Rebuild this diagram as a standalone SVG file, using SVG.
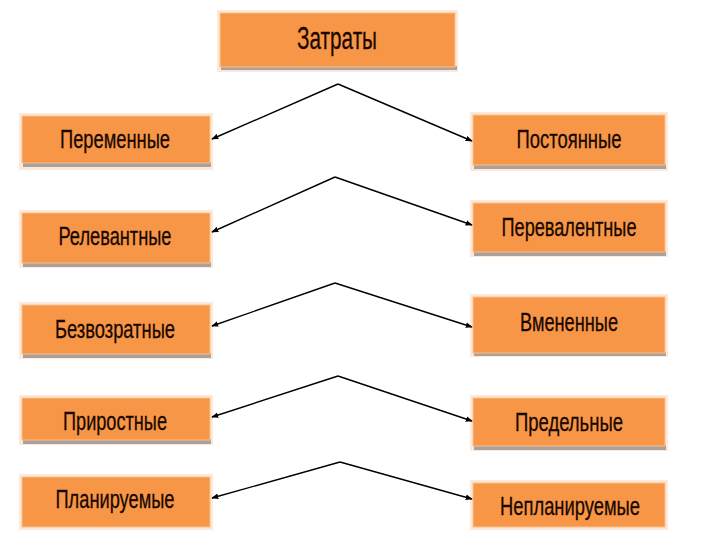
<svg xmlns="http://www.w3.org/2000/svg" width="720" height="540" viewBox="0 0 720 540">
<defs>
<marker id="arr" viewBox="0 0 10 10" refX="9" refY="5" markerWidth="7" markerHeight="7" markerUnits="userSpaceOnUse" orient="auto">
<path d="M0,1 L10,5 L0,9 z" fill="#000"/>
</marker>
</defs>
<style>
.glow{fill:#fde9d9}
.sh{fill:#a9a19a}
.box{fill:#f79646;stroke:#fac090;stroke-width:1}
.t{font-family:"Liberation Sans",Arial,sans-serif;font-size:25px;fill:#1a0800;stroke:#1a0800;stroke-width:0.3;text-anchor:middle}
.tt{font-size:31px}
.c{fill:none;stroke:#000;stroke-width:1.4;marker-end:url(#arr)}
</style>
<rect width="720" height="540" fill="#fff"/>

<g id="zatraty">
<rect class="glow" x="217" y="10" width="241" height="62"/>
<rect class="sh" x="221" y="66" width="236" height="4"/>
<rect class="box" x="220" y="13" width="235" height="54"/>
<text class="t tt" x="337" y="49" textLength="80" lengthAdjust="spacingAndGlyphs">Затраты</text>
</g>

<g id="peremennye">
<rect class="glow" x="19" y="113" width="194" height="57"/>
<rect class="sh" x="23" y="162" width="188" height="5"/>
<rect class="box" x="22" y="116" width="188" height="47"/>
<text class="t" x="115" y="148" textLength="110" lengthAdjust="spacingAndGlyphs">Переменные</text>
</g>

<g id="postoyannye">
<rect class="glow" x="470" y="112" width="198" height="59"/>
<rect class="sh" x="474" y="164" width="192" height="5"/>
<rect class="box" x="473" y="115" width="192" height="50"/>
<text class="t" x="569" y="148" textLength="105" lengthAdjust="spacingAndGlyphs">Постоянные</text>
</g>

<g id="relevantnye">
<rect class="glow" x="19" y="210" width="194" height="58"/>
<rect class="sh" x="23" y="262" width="188" height="5"/>
<rect class="box" x="22" y="213" width="188" height="50"/>
<text class="t" x="115" y="245" textLength="113" lengthAdjust="spacingAndGlyphs">Релевантные</text>
</g>

<g id="perevalentnye">
<rect class="glow" x="470" y="200" width="198" height="57"/>
<rect class="sh" x="474" y="251" width="192" height="5"/>
<rect class="box" x="473" y="203" width="192" height="49"/>
<text class="t" x="569" y="236" textLength="135" lengthAdjust="spacingAndGlyphs">Перевалентные</text>
</g>

<g id="bezvozratnye">
<rect class="glow" x="19" y="302" width="194" height="57"/>
<rect class="sh" x="23" y="353" width="188" height="5"/>
<rect class="box" x="22" y="305" width="188" height="49"/>
<text class="t" x="115" y="338" textLength="120" lengthAdjust="spacingAndGlyphs">Безвозратные</text>
</g>

<g id="vmenennye">
<rect class="glow" x="470" y="294" width="198" height="63"/>
<rect class="sh" x="474" y="352" width="192" height="4"/>
<rect class="box" x="473" y="297" width="192" height="56"/>
<text class="t" x="569" y="331" textLength="98" lengthAdjust="spacingAndGlyphs">Вмененные</text>
</g>

<g id="prirostnye">
<rect class="glow" x="19" y="395" width="194" height="50"/>
<rect class="sh" x="23" y="439" width="188" height="5"/>
<rect class="box" x="22" y="398" width="188" height="42"/>
<text class="t" x="115" y="430" textLength="104" lengthAdjust="spacingAndGlyphs">Приростные</text>
</g>

<g id="predelnye">
<rect class="glow" x="470" y="395" width="198" height="56"/>
<rect class="sh" x="474" y="445" width="192" height="5"/>
<rect class="box" x="473" y="398" width="192" height="48"/>
<text class="t" x="569" y="431" textLength="108" lengthAdjust="spacingAndGlyphs">Предельные</text>
</g>

<g id="planiruemye">
<rect class="glow" x="19" y="474" width="194" height="56"/>
<rect class="box" x="22" y="477" width="188" height="50"/>
<text class="t" x="115" y="508" textLength="119" lengthAdjust="spacingAndGlyphs">Планируемые</text>
</g>

<g id="neplaniruemye">
<rect class="glow" x="470" y="480" width="198" height="50"/>
<rect class="box" x="473" y="483" width="192" height="44"/>
<text class="t" x="570" y="515" textLength="140" lengthAdjust="spacingAndGlyphs">Непланируемые</text>
</g>

<g id="connectors">
<polyline class="c" points="338,84 212,139"/>
<polyline class="c" points="338,84 472,141"/>
<polyline class="c" points="335,177 212,232"/>
<polyline class="c" points="335,177 472,225"/>
<polyline class="c" points="335,283 212,326"/>
<polyline class="c" points="335,283 472,327"/>
<polyline class="c" points="338,376 212,417"/>
<polyline class="c" points="338,376 472,421"/>
<polyline class="c" points="340,462 212,498"/>
<polyline class="c" points="340,462 472,499"/>
</g>
</svg>
